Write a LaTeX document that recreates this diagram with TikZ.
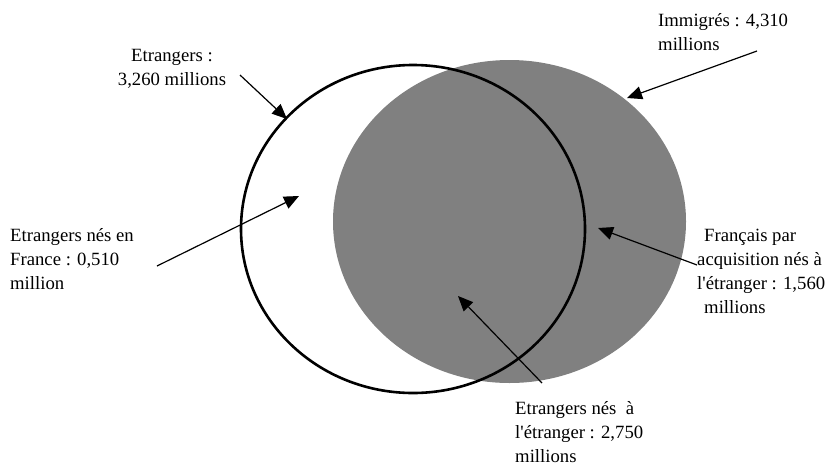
\documentclass[tikz,border=0pt]{standalone}
\usepackage{fontspec}
\setmainfont{Liberation Serif}
\usetikzlibrary{arrows.meta}
\definecolor{venngrey}{RGB}{128,128,128}
\begin{document}
\begin{tikzpicture}[x=1pt,y=-1pt,
  lbl/.style={font=\fontsize{18.7}{24}\selectfont, inner sep=0pt, anchor=base west, align=left},
  ptr/.style={line width=1.2pt, -{Triangle[length=15pt,width=13pt]}}]
\useasboundingbox (0,0) rectangle (837,466);
\fill[white] (0,0) rectangle (837,466);
% sets
\fill[venngrey] (509.5,221.5) ellipse [x radius=176.5, y radius=161.5];
\draw[line width=2.6pt] (413,229) ellipse [x radius=172, y radius=164];
% labels (anchor = baseline of last line)
\node[lbl, anchor=base, align=center] (etr) at (172,85) {Etrangers :\\3,260 millions};
\node[lbl] (imm) at (658,50) {Immigrés : 4,310\\millions};
\node[lbl] (fra) at (10,289) {Etrangers nés en\\France : 0,510\\million};
\node[lbl] (acq) at (697,313) {\hspace*{7pt}Français par\\acquisition nés à\\l\textquotesingle étranger : 1,560\\\hspace*{7pt}millions};
\node[lbl] (ete) at (515,462) {Etrangers nés\ \ à\\l\textquotesingle étranger : 2,750\\millions};
% connector ends
\coordinate (etrS) at (240,75);  \coordinate (etrT) at (287,119);
\coordinate (immS) at (757,51);  \coordinate (immT) at (627,98);
\coordinate (fraS) at (157,266); \coordinate (fraT) at (299,196);
\coordinate (acqS) at (697,265); \coordinate (acqT) at (598,228);
\coordinate (eteS) at (542,383); \coordinate (eteT) at (458,296);
\draw[ptr] (etrS) -- (etrT);
\draw[ptr] (immS) -- (immT);
\draw[ptr] (fraS) -- (fraT);
\draw[ptr] (acqS) -- (acqT);
\draw[ptr] (eteS) -- (eteT);
\end{tikzpicture}
\end{document}
